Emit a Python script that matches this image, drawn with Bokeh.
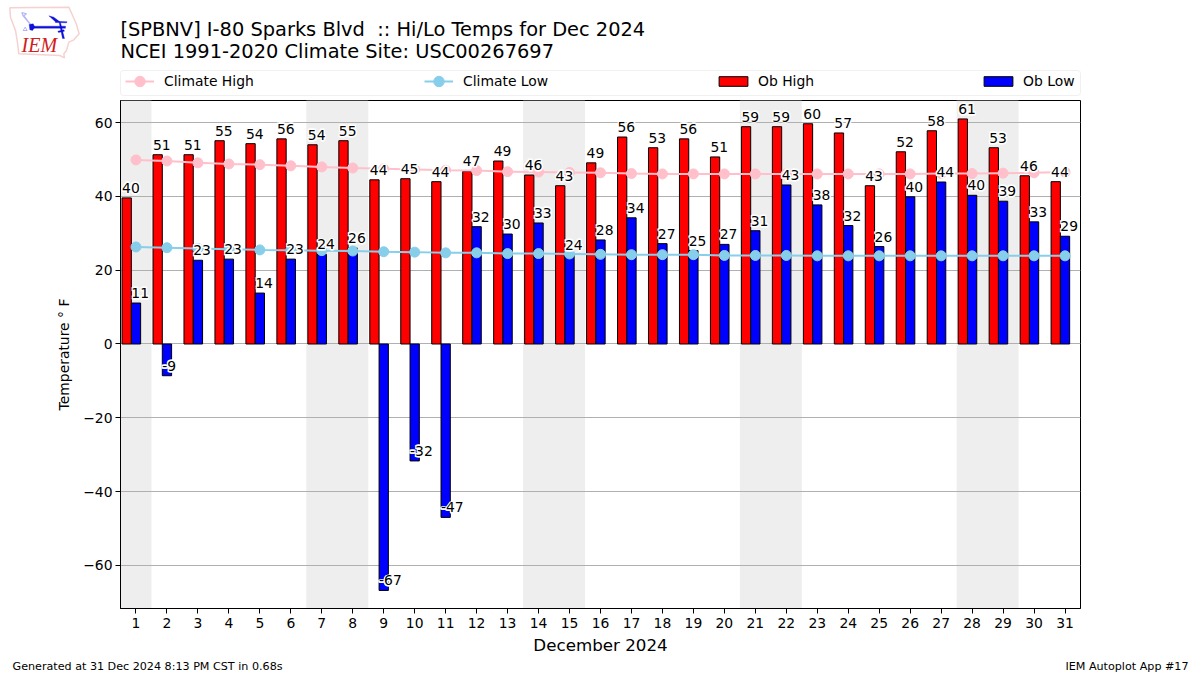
from bokeh.plotting import figure
from bokeh.layouts import column
from bokeh.models import (FixedTicker, Legend, LegendItem, Label, BoxAnnotation, PolyAnnotation, ColumnDataSource, Range1d)
from bokeh.core.properties import value
from bokeh.embed import file_html
from bokeh.resources import INLINE

days = list(range(1, 32))
ob_high = [39.6,51.3,51.3,55.1,54.3,55.6,54.0,55.1,44.5,44.8,44.0,46.8,49.6,45.8,42.9,49.1,56.1,53.2,55.6,50.7,58.9,58.9,59.7,57.2,42.9,52.1,57.8,61.0,53.2,45.6,44.0]
ob_low = [11.1,-8.6,22.7,23.0,13.8,23.0,24.3,26.0,-66.8,-31.7,-47.0,31.8,29.8,32.8,24.2,28.2,34.2,27.2,25.3,27.0,30.7,43.1,37.7,32.1,26.4,39.9,43.9,40.3,38.7,33.1,29.2]
high_labels = [40,51,51,55,54,56,54,55,44,45,44,47,49,46,43,49,56,53,56,51,59,59,60,57,43,52,58,61,53,46,44]
low_labels = [11,-9,23,23,14,23,24,26,-67,-32,-47,32,30,33,24,28,34,27,25,27,31,43,38,32,26,40,44,40,39,33,29]
clim_high = [49.9,49.6,49.1,48.8,48.6,48.3,48.0,47.7,47.5,47.3,47.1,47.0,46.7,46.6,46.5,46.4,46.2,46.1,46.1,46.1,46.1,46.1,46.1,46.1,46.1,46.1,46.2,46.2,46.3,46.4,46.6]
clim_low = [26.3,26.1,25.9,25.7,25.5,25.4,25.3,25.2,25.0,24.9,24.7,24.7,24.5,24.5,24.4,24.3,24.2,24.2,24.2,24.0,24.0,24.0,23.9,23.9,23.9,23.9,23.9,23.9,23.9,23.9,23.9]
weekend_start = [0.5,6.5,13.5,20.5,27.5]
weekend_end = [1.5,8.5,15.5,22.5,29.5]
y_ticks = [-60,-40,-20,0,20,40,60]

FONT = "DejaVu Sans"
W=1192
p = figure(width=W, height=557, output_backend="svg", toolbar_location=None,
           x_range=Range1d(0.5,31.5), y_range=Range1d(-71.7,66), frame_align=False,
           min_border_left=120, min_border_right=112, min_border_top=0, min_border_bottom=49)
p.outline_line_color="black"; p.outline_line_width=1
p.xgrid.visible=False
p.ygrid.grid_line_color="#b0b0b0"; p.ygrid.grid_line_width=1
p.ygrid.ticker=FixedTicker(ticks=y_ticks); p.ygrid.level="underlay"
p.xaxis.ticker=FixedTicker(ticks=days)
p.yaxis.ticker=FixedTicker(ticks=y_ticks)
p.yaxis.major_label_overrides={t:(str(t).replace("-","\u2212")) for t in y_ticks}
for ax in (p.xaxis[0],p.yaxis[0]):
    ax.major_tick_in=0; ax.major_tick_out=5; ax.minor_tick_in=0; ax.minor_tick_out=0
    ax.major_label_text_font=FONT; ax.major_label_text_font_size="13.9px"; ax.major_label_text_color="black"
    ax.axis_label_text_font=FONT; ax.axis_label_text_font_style="normal"; ax.axis_label_text_color="black"
    ax.axis_line_color="black"; ax.major_tick_line_color="black"
p.xaxis.axis_label="December 2024"; p.xaxis.axis_label_text_font_size="16.7px"; p.xaxis.axis_label_standoff=4
p.xaxis.major_label_standoff=4
p.yaxis.axis_label="Temperature \u00b0 F"; p.yaxis.axis_label_text_font_size="13.9px"; p.yaxis.axis_label_standoff=8
p.yaxis.major_label_standoff=3

p.quad(left=weekend_start,right=weekend_end,bottom=-71.7,top=66,fill_color="#eeeeee",line_color=None,level="image")

BW=0.3
p.vbar(x=[d-0.3 for d in days],top=ob_high,bottom=0,width=BW,fill_color="red",line_color="black",line_width=1)
p.vbar(x=days,top=ob_low,bottom=0,width=BW,fill_color="blue",line_color="black",line_width=1)
p.line(days,clim_high,line_color="pink",line_width=2)
p.scatter(days,clim_high,size=10,fill_color="pink",line_color="pink")
p.line(days,clim_low,line_color="skyblue",line_width=2)
p.scatter(days,clim_low,size=10,fill_color="skyblue",line_color="skyblue")

OFF=-10
def labels(xs,ys,texts):
    src=ColumnDataSource(dict(x=xs,y=ys,t=[str(t) for t in texts]))
    kw=dict(source=src,text_font=value(FONT),text_font_size="13.9px",text_align="left",text_baseline="alphabetic")
    for dx,dy in [(-0.8,-0.8),(0.8,-0.8),(-0.8,0.8),(0.8,0.8)]:
        p.text("x","y","t",text_color="white",text_outline_color="white",x_offset=dx,y_offset=OFF+dy,**kw)
    p.text("x","y","t",text_color="black",y_offset=OFF,**kw)
labels([d-0.45 for d in days],ob_high,high_labels)
labels([d-0.15 for d in days],ob_low,low_labels)

# header: title, logo, legend
h = figure(width=W, height=100, output_backend="svg", toolbar_location=None, x_range=Range1d(0,W), y_range=Range1d(100,0),
           min_border=0, x_axis_location=None, y_axis_location=None, outline_line_color=None, frame_align=False)
h.grid.visible=False
h.add_layout(BoxAnnotation(left=120,right=1080,top=70,bottom=95,left_units="canvas",right_units="canvas",top_units="canvas",bottom_units="canvas",
    fill_color="white",fill_alpha=1,line_color="#cccccc",line_width=1,border_radius=3))
OUT=[-50,-40]   # legend proxies sit outside the header's visible range
lh=h.line(OUT,OUT,line_color="pink",line_width=2); mh=h.scatter(OUT,OUT,size=10,fill_color="pink",line_color="pink")
ll=h.line(OUT,OUT,line_color="skyblue",line_width=2); ml=h.scatter(OUT,OUT,size=10,fill_color="skyblue",line_color="skyblue")
rh=h.quad(left=OUT,right=OUT,top=OUT,bottom=OUT,fill_color="red",line_color="black")
rl=h.quad(left=OUT,right=OUT,top=OUT,bottom=OUT,fill_color="blue",line_color="black")
items=[("Climate High",[lh,mh],125,29,26,10,6),("Climate Low",[ll,ml],424,29,26,10,6),("Ob High",[rh],715,36,12,7,11),("Ob Low",[rl],980,36,12,7,11)]
for name,rs,x,gw,gh,st,yb in items:
    lg=Legend(items=[LegendItem(label=value(name),renderers=rs)],location=(x,yb),orientation="horizontal",
        background_fill_alpha=0,border_line_color=None,glyph_width=gw,glyph_height=gh,label_standoff=st,padding=0,margin=0,
        label_text_font=FONT,label_text_font_size="13.9px",label_text_color="black",spacing=0)
    h.add_layout(lg,"center")

def txt(f,t,x,y,size,align="left",color="black",font=FONT,style="normal"):
    f.add_layout(Label(x=x,y=y,x_units="canvas",y_units="canvas",text=t,text_font=font,text_font_size=size,text_color=color,text_align=align,text_baseline="alphabetic",text_font_style=style))
txt(h,"[SPBNV] I-80 Sparks Blvd \u00a0:: Hi/Lo Temps for Dec 2024",120,29,"19.4px")
txt(h,"NCEI 1991-2020 Climate Site: USC00267697",120,51,"19.4px")

def poly(pts,line="#0000cc",fill=None,w=1):
    xs=[a/3 for a,b in pts]; ys=[b/3 for a,b in pts]
    h.add_layout(PolyAnnotation(xs=xs,ys=ys,xs_units="canvas",ys_units="canvas",line_color=line,line_width=w,fill_color=fill if fill else "white",fill_alpha=1 if fill else 0))
poly([(28,22),(205,20),(215,42),(228,72),(236,100),(220,118),(205,125),(198,150),(190,160),(192,172),(178,165),(55,160),(50,120),(45,90),(30,50)],line="#e06666",w=1.5)
poly([(95,77),(195,77),(195,83),(95,83)],fill="#1010dd")
poly([(145,46),(160,50),(178,64),(165,64)],fill="#1010dd")
poly([(86,72),(98,70),(103,80),(96,90),(88,88)],fill="#1010dd")
poly([(165,62),(200,64),(198,67),(165,66)],fill="#1010dd")
poly([(90,72),(68,46),(64,36),(78,40),(70,46)],line="#1010dd",w=1.3)
poly([(176,66),(180,66),(192,114),(186,114)],fill="#1010dd")
poly([(172,92),(190,88),(192,92),(174,96)],fill="#1010dd")
poly([(68,90),(74,80),(80,90)],line="#1010dd")
txt(h,"IEM",21,44,"20px",color="#d02020",font="Liberation Serif",style="italic")

# footer
ft = figure(width=W, height=17, output_backend="svg", toolbar_location=None, x_range=Range1d(0,W), y_range=Range1d(17,0),
           min_border=0, x_axis_location=None, y_axis_location=None, outline_line_color=None, frame_align=False)
ft.grid.visible=False
txt(ft,"Generated at 31 Dec 2024 8:13 PM CST in 0.68s",12,9,"11.15px")
txt(ft,"IEM Autoplot App #17",1188,9,"11.15px",align="right")

page=column(h,p,ft,spacing=0)
open("out.html","w").write(file_html(page,INLINE))
